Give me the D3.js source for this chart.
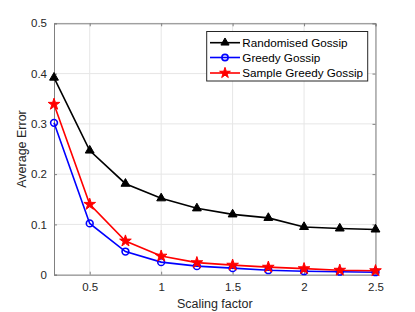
<!DOCTYPE html>
<html><head><meta charset="utf-8">
<script src="https://cdn.jsdelivr.net/npm/d3@7"></script>
<style>body{margin:0;background:#fff}svg{display:block}text{font-family:"Liberation Sans",Arial,sans-serif}</style>
</head><body>
<svg id="c" width="415" height="312"></svg>
<script>
const scalingFactor = [0.25,0.5,0.75,1.0,1.25,1.5,1.75,2.0,2.25,2.5];
const randomised = [0.392,0.247,0.181,0.152,0.132,0.120,0.113,0.095,0.092,0.090];
const greedy = [0.302,0.102,0.046,0.025,0.017,0.013,0.009,0.007,0.006,0.005];
const sampleGreedy = [0.339,0.140,0.067,0.037,0.024,0.019,0.015,0.012,0.009,0.008];
const xTicks = [0.5,1,1.5,2,2.5];
const yTicks = [0,0.1,0.2,0.3,0.4,0.5];
const seriesNames = ["Randomised Gossip","Greedy Gossip","Sample Greedy Gossip"];
const seriesColors = ["#000000","#0000ff","#ff0000"];
const seriesMarkers = ["triangle","circle","star"];

const L=54,R=375.5,T=23.3,B=274.7;
const svg=d3.select("#c");
const x=d3.scaleLinear().domain([0.25,2.5]).range([L,R]);
const y=d3.scaleLinear().domain([0,0.5]).range([B,T]);

// grid
const g=svg.append("g");
g.selectAll(".gx").data(xTicks).enter().append("line")
 .attr("x1",d=>x(d)).attr("x2",d=>x(d)).attr("y1",T).attr("y2",B)
 .attr("stroke","#e6e6e6").attr("stroke-width",1);
g.selectAll(".gy").data(yTicks).enter().append("line")
 .attr("y1",d=>y(d)).attr("y2",d=>y(d)).attr("x1",L).attr("x2",R)
 .attr("stroke","#e6e6e6").attr("stroke-width",1);

// axes
const axCol="#262626";
const xAx=svg.append("g").attr("transform",`translate(0,${B})`)
 .call(d3.axisBottom(x).tickValues(xTicks).tickSize(-3).tickPadding(8).tickFormat(d3.format("")));
const xAxT=svg.append("g").attr("transform",`translate(0,${T})`)
 .call(d3.axisTop(x).tickValues(xTicks).tickSize(-3).tickFormat(""));
const yAx=svg.append("g").attr("transform",`translate(${L},0)`)
 .call(d3.axisLeft(y).tickValues(yTicks).tickSize(-3).tickPadding(7).tickFormat(d3.format("")));
const yAxR=svg.append("g").attr("transform",`translate(${R},0)`)
 .call(d3.axisRight(y).tickValues(yTicks).tickSize(-3).tickFormat(""));
[xAx,xAxT,yAx,yAxR].forEach(a=>{
 a.select(".domain").attr("stroke","#808080").attr("stroke-width",1);
 a.selectAll(".tick line").attr("stroke","#808080");
 a.selectAll("text").attr("fill",axCol).style("font-size","11.5px").style("font-family","'Liberation Sans',Arial,sans-serif");
});

// markers
const markerSpec={triangle:{t:d3.symbolTriangle,s:34},circle:{t:d3.symbolCircle,s:36},star:{t:d3.symbolStar,s:42}};
function markerPath(type,scale){return d3.symbol().type(markerSpec[type].t).size(markerSpec[type].s*(scale||1))();}
const datas=[randomised,greedy,sampleGreedy];
const line=d3.line().x((d,i)=>x(scalingFactor[i])).y(d=>y(d));
datas.forEach((ds,k)=>{
 const col=seriesColors[k];
 svg.append("path").datum(ds).attr("d",line).attr("fill","none").attr("stroke",col).attr("stroke-width",1.6);
 svg.selectAll(".m"+k).data(ds).enter().append("path")
  .attr("transform",(d,i)=>`translate(${x(scalingFactor[i])},${y(d)})`)
  .attr("d",markerPath(seriesMarkers[k]))
  .attr("fill",seriesMarkers[k]==="circle"?"none":col)
  .attr("stroke",col).attr("stroke-width",seriesMarkers[k]==="circle"?1.6:1);
});

// legend
const lg=svg.append("g");
lg.append("rect").attr("x",206.7).attr("y",31.5).attr("width",161).attr("height",49.5)
 .attr("fill","#fff").attr("stroke","#262626").attr("stroke-width",1);
const rows=[42.7,57.5,73];
seriesNames.forEach((n,k)=>{
 const col=seriesColors[k];
 lg.append("line").attr("x1",210).attr("x2",240).attr("y1",rows[k]).attr("y2",rows[k]).attr("stroke",col).attr("stroke-width",1.6);
 lg.append("path").attr("transform",`translate(225,${rows[k]})`)
  .attr("d",markerPath(seriesMarkers[k],0.85))
  .attr("fill",seriesMarkers[k]==="circle"?"none":col).attr("stroke",col).attr("stroke-width",seriesMarkers[k]==="circle"?1.6:1);
 lg.append("text").attr("x",242.3).attr("y",rows[k]).attr("dy","0.35em").attr("fill","#000").style("font-size","11.7px").text(n);
});

// labels
svg.append("text").attr("x",(L+R)/2).attr("y",303.5).attr("dy","0.35em").attr("text-anchor","middle")
 .attr("fill",axCol).style("font-size","12.5px").text("Scaling factor");
svg.append("text").attr("transform",`translate(22,${(T+B)/2}) rotate(-90)`).attr("dy","0.35em").attr("text-anchor","middle")
 .attr("fill",axCol).style("font-size","12.5px").text("Average Error");
</script>
</body></html>
